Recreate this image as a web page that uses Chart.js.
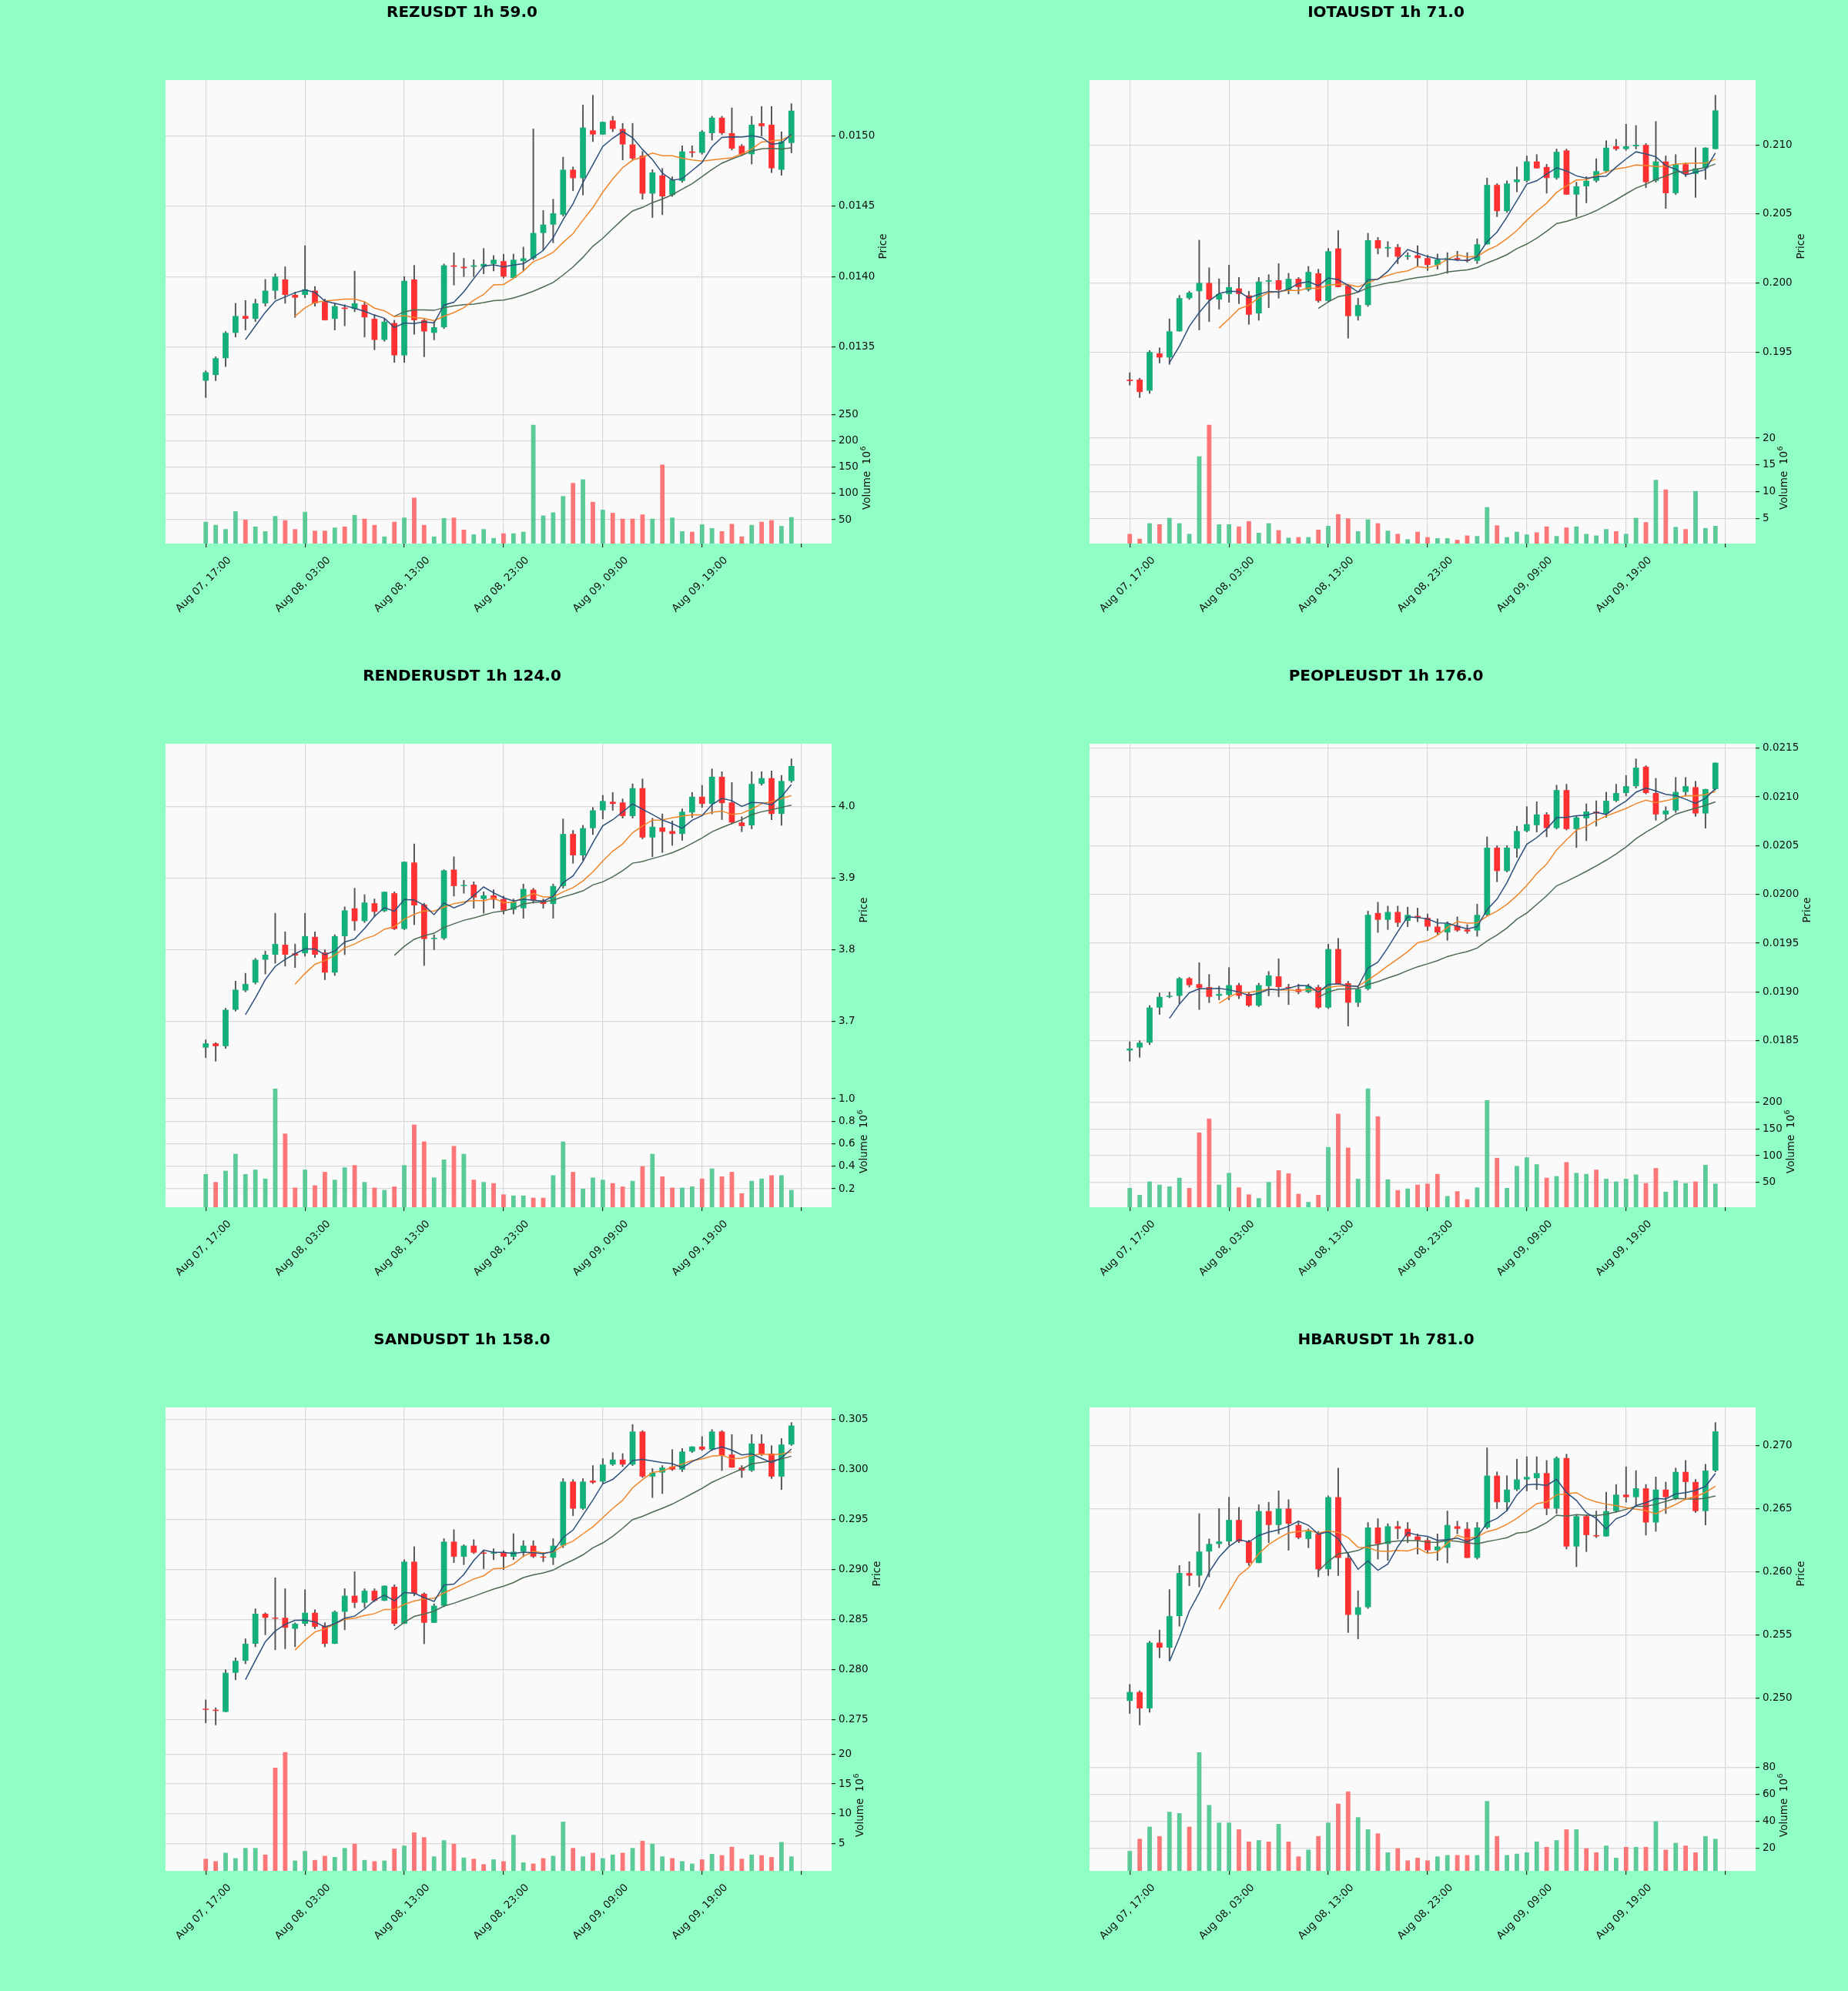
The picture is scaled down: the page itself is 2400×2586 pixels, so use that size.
<!DOCTYPE html>
<html><head><meta charset="utf-8">
<script src="https://cdn.jsdelivr.net/npm/chart.js@4.4.1/dist/chart.umd.min.js"></script>
<style>
html,body{margin:0;padding:0;background:#90ffc6;}
#fig{position:relative;width:2400px;height:2586px;background:#90ffc6;overflow:hidden;}
.cell{position:absolute;width:1200px;height:862px;}
</style></head><body><div id="fig"></div>
<script>
// ---------- DATA ----------
const xTickLabels = ['Aug 07, 17:00','Aug 08, 03:00','Aug 08, 13:00','Aug 08, 23:00','Aug 09, 09:00','Aug 09, 19:00'];
const xTickPos = [0,10,20,30,40,50,60];
const titles = ['REZUSDT 1h 59.0','IOTAUSDT 1h 71.0','RENDERUSDT 1h 124.0','PEOPLEUSDT 1h 176.0','SANDUSDT 1h 158.0','HBARUSDT 1h 781.0'];

// REZUSDT
const rezO=[0.01326,0.01330,0.01342,0.01360,0.01372,0.01370,0.01381,0.01390,0.01398,0.01387,0.01387,0.01390,0.01382,0.01370,0.01378,0.01377,0.01380,0.01370,0.01355,0.01367,0.01344,0.01398,0.01369,0.01360,0.01364,0.01408,0.01407,0.01407,0.01407,0.01409,0.01411,0.01399,0.01411,0.01413,0.01431,0.01437,0.01444,0.01476,0.01470,0.01504,0.01501,0.01511,0.01505,0.01494,0.01486,0.01459,0.01472,0.01458,0.01468,0.01489,0.01488,0.01502,0.01513,0.01502,0.01493,0.01487,0.01509,0.01508,0.01476,0.01495];
const rezH=[0.01333,0.01343,0.01361,0.01381,0.01383,0.01384,0.01398,0.01402,0.01407,0.01389,0.01422,0.01393,0.01384,0.01381,0.01380,0.01404,0.01382,0.01373,0.01370,0.01369,0.01400,0.01408,0.01370,0.01368,0.01409,0.01417,0.01413,0.01412,0.01420,0.01415,0.01416,0.01416,0.01421,0.01505,0.01447,0.01455,0.01485,0.01478,0.01522,0.01529,0.01510,0.01514,0.01509,0.01509,0.01489,0.01476,0.01477,0.01471,0.01493,0.01493,0.01504,0.01514,0.01514,0.01520,0.01494,0.01514,0.01521,0.01521,0.01503,0.01523];
const rezL=[0.01314,0.01326,0.01336,0.01357,0.01362,0.01368,0.01379,0.01384,0.01381,0.01371,0.01385,0.01379,0.01369,0.01362,0.01365,0.01375,0.01357,0.01348,0.01354,0.01339,0.01339,0.01359,0.01343,0.01355,0.01363,0.01394,0.01400,0.01400,0.01402,0.01404,0.01399,0.01399,0.01404,0.01412,0.01419,0.01424,0.01443,0.01461,0.01458,0.01496,0.01501,0.01503,0.01483,0.01483,0.01455,0.01442,0.01444,0.01457,0.01467,0.01485,0.01487,0.01497,0.01501,0.01490,0.01486,0.01480,0.01500,0.01474,0.01472,0.01488];
const rezC=[0.01332,0.01342,0.01360,0.01372,0.01370,0.01381,0.01390,0.01400,0.01387,0.01385,0.01391,0.01381,0.01369,0.01379,0.01377,0.01381,0.01371,0.01355,0.01368,0.01344,0.01397,0.01369,0.01361,0.01364,0.01408,0.01407,0.01406,0.01408,0.01409,0.01412,0.01400,0.01412,0.01413,0.01431,0.01437,0.01445,0.01476,0.01470,0.01506,0.01501,0.01510,0.01505,0.01494,0.01484,0.01459,0.01474,0.01457,0.01469,0.01489,0.01488,0.01503,0.01513,0.01502,0.01491,0.01487,0.01508,0.01507,0.01477,0.01496,0.01518];
const rezV=[46,40,32,66,50,37,28,57,49,32,65,29,29,35,37,59,52,40,18,46,54,92,40,18,53,54,31,22,32,15,24,24,27,231,58,64,95,120,127,84,69,63,52,52,60,52,155,54,28,27,41,34,28,42,18,40,46,49,38,55];
const rezPriceTicks=[0.0135,0.0140,0.0145,0.0150];
const rezVolTicks=[50,100,150,200,250];

// IOTAUSDT
const iotaO=[0.1930,0.1930,0.1922,0.1949,0.1946,0.1965,0.1989,0.1994,0.2000,0.1988,0.1992,0.1996,0.1991,0.1978,0.2001,0.2002,0.1995,0.2003,0.1995,0.2007,0.1987,0.2025,0.1998,0.1976,0.1984,0.2031,0.2025,0.2026,0.2019,0.2020,0.2018,0.2013,0.2017,0.2018,0.2017,0.2016,0.2028,0.2071,0.2052,0.2073,0.2074,0.2088,0.2084,0.2076,0.2096,0.2064,0.2070,0.2074,0.2081,0.2099,0.2097,0.2099,0.2100,0.2074,0.2088,0.2065,0.2086,0.2079,0.2083,0.2097];
const iotaH=[0.1935,0.1931,0.1951,0.1953,0.1974,0.1991,0.1994,0.2031,0.2011,0.2003,0.2013,0.2004,0.1994,0.2004,0.2006,0.2014,0.2007,0.2004,0.2012,0.2010,0.2025,0.2038,0.1999,0.1989,0.2036,0.2033,0.2030,0.2028,0.2022,0.2027,0.2020,0.2021,0.2022,0.2023,0.2022,0.2032,0.2076,0.2072,0.2074,0.2084,0.2092,0.2093,0.2086,0.2097,0.2097,0.2073,0.2077,0.2090,0.2103,0.2104,0.2115,0.2114,0.2101,0.2117,0.2092,0.2093,0.2087,0.2098,0.2098,0.2136];
const iotaL=[0.1926,0.1917,0.1920,0.1942,0.1941,0.1965,0.1988,0.1966,0.1972,0.1981,0.1986,0.1985,0.1970,0.1973,0.1982,0.1989,0.1992,0.1992,0.1994,0.1986,0.1986,0.1997,0.1960,0.1973,0.1983,0.2021,0.2019,0.2014,0.2017,0.2012,0.2009,0.2010,0.2007,0.2016,0.2015,0.2014,0.2028,0.2048,0.2051,0.2066,0.2073,0.2083,0.2065,0.2075,0.2064,0.2048,0.2058,0.2073,0.2080,0.2096,0.2096,0.2097,0.2069,0.2073,0.2054,0.2064,0.2077,0.2062,0.2075,0.2097];
const iotaC=[0.1929,0.1921,0.1950,0.1946,0.1965,0.1989,0.1993,0.2000,0.1988,0.1992,0.1997,0.1992,0.1977,0.2001,0.2002,0.1995,0.2003,0.1997,0.2008,0.1987,0.2023,0.1997,0.1976,0.1984,0.2031,0.2025,0.2026,0.2019,0.2020,0.2018,0.2013,0.2017,0.2018,0.2017,0.2016,0.2028,0.2071,0.2052,0.2072,0.2075,0.2088,0.2083,0.2076,0.2095,0.2064,0.2070,0.2074,0.2081,0.2098,0.2097,0.2099,0.2100,0.2073,0.2088,0.2065,0.2086,0.2079,0.2083,0.2098,0.2125];
const iotaV=[2.1,1.2,4.1,3.9,5.1,4.1,2.1,16.6,22.5,3.9,3.9,3.5,4.5,2.3,4.1,2.8,1.4,1.5,1.5,2.9,3.6,5.8,5.0,2.6,4.8,4.1,2.7,2.1,1.1,2.5,1.5,1.3,1.3,1.0,1.8,1.7,7.1,3.7,1.5,2.5,2.0,2.4,3.5,1.7,3.3,3.5,2.1,1.8,3.0,2.6,2.1,5.1,4.3,12.2,10.4,3.4,3.0,10.1,3.2,3.6];
const iotaPriceTicks=[0.195,0.200,0.205,0.210];
const iotaVolTicks=[5,10,15,20];

// RENDERUSDT
const renO=[3.663,3.669,3.665,3.716,3.743,3.754,3.786,3.793,3.807,3.795,3.795,3.818,3.796,3.768,3.819,3.858,3.840,3.865,3.854,3.879,3.829,3.922,3.863,3.815,3.816,3.912,3.889,3.891,3.871,3.876,3.871,3.856,3.858,3.884,3.869,3.864,3.889,3.962,3.932,3.970,3.995,4.007,4.006,3.987,4.026,3.957,3.971,3.966,3.962,3.992,4.014,4.004,4.042,4.006,3.978,3.974,4.032,4.040,3.990,4.036];
const renH=[3.674,3.670,3.718,3.756,3.767,3.788,3.798,3.851,3.825,3.808,3.851,3.825,3.800,3.821,3.860,3.886,3.877,3.871,3.881,3.881,3.923,3.948,3.865,3.821,3.912,3.930,3.897,3.895,3.881,3.884,3.875,3.871,3.892,3.886,3.871,3.892,3.983,3.967,3.974,3.999,4.016,4.020,4.011,4.032,4.039,3.984,3.990,3.980,3.997,4.020,4.030,4.053,4.049,4.034,3.986,4.049,4.049,4.050,4.044,4.067];
const renL=[3.649,3.644,3.662,3.714,3.741,3.752,3.766,3.781,3.777,3.775,3.791,3.789,3.758,3.764,3.793,3.827,3.838,3.846,3.853,3.828,3.828,3.835,3.778,3.800,3.814,3.875,3.879,3.858,3.851,3.858,3.850,3.850,3.844,3.865,3.858,3.844,3.886,3.921,3.925,3.961,3.983,3.995,3.984,3.984,3.955,3.930,3.936,3.946,3.953,3.985,3.999,3.990,3.982,3.976,3.965,3.969,4.030,3.982,3.974,4.034];
const renC=[3.669,3.665,3.716,3.744,3.752,3.786,3.793,3.808,3.793,3.792,3.819,3.793,3.768,3.819,3.855,3.840,3.866,3.853,3.881,3.829,3.923,3.862,3.815,3.816,3.911,3.889,3.890,3.873,3.876,3.870,3.855,3.867,3.885,3.869,3.864,3.889,3.962,3.932,3.970,3.995,4.008,4.004,3.987,4.026,3.957,3.972,3.965,3.962,3.993,4.014,4.004,4.042,4.005,3.978,3.973,4.032,4.040,3.990,4.036,4.057];
const renV=[0.33,0.26,0.36,0.51,0.33,0.37,0.29,1.09,0.69,0.21,0.37,0.23,0.35,0.28,0.39,0.41,0.26,0.21,0.19,0.22,0.41,0.77,0.62,0.30,0.46,0.58,0.51,0.28,0.26,0.25,0.15,0.14,0.14,0.12,0.12,0.32,0.62,0.35,0.20,0.30,0.28,0.25,0.22,0.27,0.40,0.51,0.31,0.21,0.21,0.22,0.29,0.38,0.31,0.35,0.16,0.27,0.29,0.32,0.32,0.19];
const renPriceTicks=[3.7,3.8,3.9,4.0];
const renVolTicks=[0.2,0.4,0.6,0.8,1.0];

// PEOPLEUSDT
const pplO=[0.01840,0.01843,0.01848,0.01884,0.01895,0.01896,0.01914,0.01908,0.01905,0.01896,0.01897,0.01907,0.01898,0.01886,0.01906,0.01916,0.01905,0.01903,0.01900,0.01905,0.01884,0.01944,0.01909,0.01889,0.01903,0.01981,0.01974,0.01982,0.01973,0.01978,0.01976,0.01967,0.01961,0.01968,0.01964,0.01963,0.01979,0.02048,0.02024,0.02047,0.02065,0.02071,0.02082,0.02068,0.02107,0.02067,0.02078,0.02085,0.02083,0.02096,0.02104,0.02111,0.02131,0.02104,0.02082,0.02086,0.02105,0.02110,0.02083,0.02108];
const pplH=[0.01849,0.01850,0.01886,0.01899,0.01900,0.01915,0.01915,0.01930,0.01918,0.01906,0.01925,0.01909,0.01900,0.01909,0.01921,0.01934,0.01908,0.01908,0.01908,0.01907,0.01949,0.01955,0.01911,0.01905,0.01983,0.01992,0.01988,0.01988,0.01987,0.01986,0.01980,0.01975,0.01972,0.01977,0.01969,0.01990,0.02059,0.02050,0.02050,0.02070,0.02090,0.02095,0.02084,0.02112,0.02113,0.02080,0.02093,0.02096,0.02105,0.02113,0.02122,0.02139,0.02132,0.02119,0.02090,0.02120,0.02120,0.02116,0.02108,0.02135];
const pplL=[0.01829,0.01833,0.01846,0.01877,0.01894,0.01888,0.01905,0.01882,0.01889,0.01892,0.01892,0.01893,0.01885,0.01885,0.01896,0.01895,0.01887,0.01898,0.01899,0.01883,0.01883,0.01908,0.01865,0.01885,0.01902,0.01961,0.01964,0.01967,0.01967,0.01972,0.01963,0.01959,0.01953,0.01962,0.01960,0.01957,0.01978,0.02013,0.02023,0.02038,0.02064,0.02064,0.02059,0.02067,0.02066,0.02048,0.02055,0.02070,0.02079,0.02095,0.02101,0.02109,0.02103,0.02076,0.02076,0.02084,0.02101,0.02080,0.02068,0.02107];
const pplC=[0.01842,0.01848,0.01884,0.01895,0.01896,0.01914,0.01907,0.01904,0.01895,0.01898,0.01907,0.01896,0.01886,0.01907,0.01917,0.01905,0.01904,0.01900,0.01906,0.01884,0.01944,0.01908,0.01889,0.01903,0.01979,0.01974,0.01982,0.01971,0.01979,0.01976,0.01967,0.01961,0.01970,0.01963,0.01962,0.01979,0.02048,0.02024,0.02048,0.02065,0.02072,0.02082,0.02068,0.02107,0.02067,0.02079,0.02085,0.02083,0.02096,0.02104,0.02111,0.02130,0.02104,0.02082,0.02086,0.02105,0.02111,0.02083,0.02108,0.02135];
const pplV=[40,27,52,46,43,59,40,143,169,46,68,41,28,21,51,73,67,29,14,27,116,178,115,57,225,173,56,36,39,46,48,66,25,34,19,41,203,96,40,81,97,84,59,62,88,68,66,74,57,52,57,65,49,77,33,54,49,52,83,48];
const pplPriceTicks=[0.0185,0.0190,0.0195,0.0200,0.0205,0.0210,0.0215];
const pplVolTicks=[50,100,150,200];

// SANDUSDT
const sandO=[0.2761,0.2760,0.2758,0.2797,0.2809,0.2826,0.2856,0.2852,0.2852,0.2841,0.2846,0.2857,0.2844,0.2826,0.2858,0.2874,0.2867,0.2879,0.2869,0.2883,0.2846,0.2908,0.2876,0.2847,0.2864,0.2928,0.2913,0.2924,0.2917,0.2916,0.2917,0.2913,0.2918,0.2924,0.2913,0.2912,0.2924,0.2988,0.2961,0.2989,0.2988,0.3005,0.3010,0.3005,0.3038,0.2993,0.2997,0.3003,0.3000,0.3018,0.3023,0.3020,0.3038,0.3015,0.3002,0.2999,0.3026,0.3016,0.2993,0.3025];
const sandH=[0.2770,0.2762,0.2800,0.2812,0.2831,0.2861,0.2857,0.2892,0.2881,0.2847,0.2880,0.2860,0.2847,0.2859,0.2881,0.2898,0.2881,0.2881,0.2884,0.2885,0.2910,0.2923,0.2877,0.2866,0.2931,0.2940,0.2925,0.2930,0.2919,0.2921,0.2919,0.2936,0.2929,0.2929,0.2917,0.2931,0.2991,0.2990,0.2991,0.3004,0.3011,0.3017,0.3016,0.3045,0.3039,0.3001,0.3004,0.3020,0.3021,0.3023,0.3033,0.3040,0.3039,0.3035,0.3004,0.3035,0.3035,0.3024,0.3031,0.3047];
const sandL=[0.2747,0.2745,0.2758,0.2790,0.2806,0.2823,0.2835,0.2820,0.2821,0.2823,0.2844,0.2841,0.2823,0.2826,0.2840,0.2862,0.2862,0.2868,0.2869,0.2844,0.2846,0.2874,0.2826,0.2847,0.2863,0.2907,0.2905,0.2916,0.2901,0.2910,0.2900,0.2910,0.2913,0.2912,0.2908,0.2905,0.2922,0.2954,0.2960,0.2986,0.2986,0.3004,0.3003,0.3004,0.2992,0.2972,0.2976,0.2999,0.2998,0.3017,0.3019,0.3019,0.2999,0.3002,0.2992,0.2998,0.3014,0.2991,0.2980,0.3024];
const sandC=[0.2760,0.2759,0.2797,0.2809,0.2826,0.2856,0.2852,0.2851,0.2842,0.2846,0.2857,0.2843,0.2826,0.2858,0.2874,0.2867,0.2879,0.2869,0.2884,0.2846,0.2908,0.2876,0.2847,0.2864,0.2928,0.2913,0.2924,0.2917,0.2916,0.2917,0.2913,0.2918,0.2924,0.2913,0.2912,0.2924,0.2988,0.2961,0.2988,0.2987,0.3005,0.3010,0.3005,0.3038,0.2993,0.2997,0.3002,0.3000,0.3018,0.3023,0.3020,0.3038,0.3014,0.3002,0.2999,0.3026,0.3015,0.2993,0.3025,0.3044];
const sandV=[2.5,2.1,3.5,2.6,4.3,4.3,3.2,17.7,20.3,2.2,3.8,2.3,3.0,2.8,4.3,5.0,2.3,2.1,2.2,4.2,4.7,6.9,6.1,2.9,5.6,5.0,2.7,2.5,1.6,2.4,2.1,6.5,1.9,1.7,2.6,3.0,8.7,4.3,2.9,3.5,2.6,3.2,3.5,4.3,5.5,5.0,2.9,2.6,2.1,1.7,2.4,3.3,3.1,4.5,2.5,3.2,3.1,2.8,5.3,2.9];
const sandPriceTicks=[0.275,0.280,0.285,0.290,0.295,0.300,0.305];
const sandVolTicks=[5,10,15,20];

// HBARUSDT
const hbarO=[0.2498,0.2505,0.2492,0.2544,0.2540,0.2565,0.2599,0.2597,0.2616,0.2622,0.2624,0.2641,0.2624,0.2607,0.2648,0.2637,0.2650,0.2637,0.2626,0.2630,0.2602,0.2659,0.2611,0.2566,0.2572,0.2635,0.2622,0.2636,0.2634,0.2628,0.2625,0.2617,0.2619,0.2636,0.2634,0.2611,0.2635,0.2676,0.2655,0.2665,0.2673,0.2674,0.2678,0.2650,0.2690,0.2620,0.2644,0.2629,0.2628,0.2648,0.2661,0.2659,0.2666,0.2639,0.2665,0.2658,0.2679,0.2671,0.2648,0.2680];
const hbarH=[0.2511,0.2506,0.2545,0.2554,0.2586,0.2605,0.2608,0.2646,0.2626,0.2650,0.2659,0.2651,0.2625,0.2653,0.2655,0.2664,0.2657,0.2640,0.2634,0.2632,0.2660,0.2682,0.2615,0.2585,0.2639,0.2642,0.2638,0.2640,0.2639,0.2630,0.2627,0.2630,0.2648,0.2640,0.2639,0.2639,0.2698,0.2679,0.2676,0.2689,0.2691,0.2691,0.2688,0.2691,0.2693,0.2645,0.2645,0.2648,0.2663,0.2669,0.2683,0.2680,0.2669,0.2675,0.2671,0.2682,0.2688,0.2673,0.2685,0.2718];
const hbarL=[0.2488,0.2479,0.2489,0.2532,0.2530,0.2557,0.2589,0.2588,0.2596,0.2619,0.2621,0.2623,0.2605,0.2607,0.2623,0.2630,0.2617,0.2626,0.2619,0.2596,0.2597,0.2597,0.2552,0.2547,0.2571,0.2610,0.2609,0.2626,0.2623,0.2614,0.2615,0.2609,0.2607,0.2630,0.2611,0.2610,0.2634,0.2650,0.2648,0.2664,0.2664,0.2665,0.2645,0.2646,0.2618,0.2604,0.2616,0.2627,0.2628,0.2647,0.2655,0.2652,0.2629,0.2632,0.2646,0.2657,0.2657,0.2647,0.2637,0.2679];
const hbarC=[0.2505,0.2492,0.2544,0.2540,0.2565,0.2599,0.2597,0.2616,0.2622,0.2624,0.2641,0.2624,0.2607,0.2648,0.2637,0.2650,0.2638,0.2627,0.2632,0.2602,0.2659,0.2611,0.2566,0.2572,0.2635,0.2622,0.2636,0.2634,0.2628,0.2625,0.2617,0.2620,0.2637,0.2634,0.2611,0.2635,0.2676,0.2655,0.2665,0.2673,0.2675,0.2678,0.2650,0.2690,0.2620,0.2644,0.2629,0.2628,0.2648,0.2661,0.2659,0.2666,0.2639,0.2665,0.2659,0.2679,0.2671,0.2648,0.2680,0.2711];
const hbarV=[18,27,36,29,47,46,36,91,52,39,39,34,25,26,25,38,25,14,19,29,39,53,62,43,34,31,17,20,11,13,11,14,15,15,15,15,55,29,15,16,17,25,21,26,34,34,20,17,22,13,21,21,21,40,19,24,22,17,29,27];
const hbarPriceTicks=[0.250,0.255,0.260,0.265,0.270];
const hbarVolTicks=[20,40,60,80];

// ---------- STYLE ----------
const UP='#14b07a', DOWN='#fe3032', WICK='#555555';
const VUP='rgba(77,199,144,0.92)', VDOWN='rgba(253,107,108,0.92)';
const GRID='#d9d9d9', TXT='#101010';
const MA_PERIODS=[5,10,20];
const MA_COLORS=['#2c4f7c','#f0862a','#4d6a52'];
const FONT_FAMILY="'DejaVu Sans', sans-serif";
Chart.defaults.font.family = FONT_FAMILY;
Chart.defaults.font.size = 13.5;

const panels = [
  {o:rezO,h:rezH,l:rezL,c:rezC,v:rezV,pt:rezPriceTicks,vt:rezVolTicks,dec:4,vdec:0},
  {o:iotaO,h:iotaH,l:iotaL,c:iotaC,v:iotaV,pt:iotaPriceTicks,vt:iotaVolTicks,dec:3,vdec:0},
  {o:renO,h:renH,l:renL,c:renC,v:renV,pt:renPriceTicks,vt:renVolTicks,dec:1,vdec:1},
  {o:pplO,h:pplH,l:pplL,c:pplC,v:pplV,pt:pplPriceTicks,vt:pplVolTicks,dec:4,vdec:0},
  {o:sandO,h:sandH,l:sandL,c:sandC,v:sandV,pt:sandPriceTicks,vt:sandVolTicks,dec:3,vdec:0},
  {o:hbarO,h:hbarH,l:hbarL,c:hbarC,v:hbarV,pt:hbarPriceTicks,vt:hbarVolTicks,dec:3,vdec:0}
];

function sma(arr,n){
  const out=[];
  for(let i=n-1;i<arr.length;i++){let s=0;for(let j=i-n+1;j<=i;j++)s+=arr[j];out.push({x:i,y:s/n});}
  return out;
}

const panelPlugin = {
  id:'panelDecor',
  beforeDraw(chart){
    const {ctx, chartArea:a} = chart;
    ctx.save(); ctx.fillStyle='#fafafa'; ctx.fillRect(a.left,a.top,a.right-a.left,a.bottom-a.top); ctx.restore();
  },
  afterDraw(chart){
    const ctx = chart.ctx;
    const fs = 13.5;
    ctx.save();
    ctx.fillStyle = TXT;
    const items = [['y','Price',null],['yv','Volume  10','6']];
    for (const [id,label,sup] of items){
      const s = chart.scales[id];
      ctx.font = fs+'px '+FONT_FAMILY;
      let maxW = 0;
      for (const t of s.ticks){ const w = ctx.measureText(String(t.label)).width; if (w>maxW) maxW=w; }
      const x = s.left + 5 + 4 + maxW + 5 + fs*0.5;
      const yc = (s.top + s.bottom)/2;
      ctx.save();
      ctx.translate(x, yc);
      ctx.rotate(-Math.PI/2);
      ctx.textBaseline = 'middle';
      ctx.textAlign = 'left';
      const w1 = ctx.measureText(label).width;
      let w2 = 0;
      if (sup){ ctx.font = (fs*0.7)+'px '+FONT_FAMILY; w2 = ctx.measureText(sup).width; ctx.font = fs+'px '+FONT_FAMILY; }
      const x0 = -(w1+w2)/2;
      ctx.fillText(label, x0, 0);
      if (sup){ ctx.font = (fs*0.7)+'px '+FONT_FAMILY; ctx.fillText(sup, x0+w1+0.5, -5); }
      ctx.restore();
    }
    ctx.restore();
  }
};

const fig = document.getElementById('fig');
panels.forEach((p, k) => {
  const col = k % 2, row = Math.floor(k / 2);
  const div = document.createElement('div');
  div.className = 'cell';
  div.style.left = (col*1200)+'px';
  div.style.top = (row*862)+'px';
  const cv = document.createElement('canvas');
  div.appendChild(cv); fig.appendChild(div);

  const n = p.c.length;
  const idx = [...Array(n).keys()];
  const lo = Math.min(...p.l), hi = Math.max(...p.h), r = hi - lo;
  const vmin = Math.min(...p.v), vmax = Math.max(...p.v);
  const volUp = idx.map(i => i===0 ? p.c[0] >= p.o[0] : p.c[i] >= p.c[i-1]);

  const datasets = [
    {type:'bar', label:'wick', data: idx.map(i=>({x:i, y:[p.l[i], p.h[i]]})), backgroundColor:WICK,
     barThickness:1.3, grouped:false, order:5, yAxisID:'y', xAxisID:'x'},
    {type:'bar', label:'body', data: idx.map(i=>({x:i, y:[p.o[i], p.c[i]]})),
     backgroundColor: idx.map(i => p.c[i] >= p.o[i] ? UP : DOWN),
     barPercentage:0.6, categoryPercentage:1, minBarLength:1.5, grouped:false, order:4, yAxisID:'y', xAxisID:'x'},
    ...MA_PERIODS.map((m,j)=>({type:'line', label:'MA'+m, data: sma(p.c, m), borderColor: MA_COLORS[j],
      borderWidth:1.5, pointRadius:0, tension:0, fill:false, order:1, yAxisID:'y', xAxisID:'x'})),
    {type:'bar', label:'volume', data: idx.map(i=>({x:i, y:p.v[i]})),
     backgroundColor: idx.map(i => volUp[i] ? VUP : VDOWN),
     barPercentage:0.45, categoryPercentage:1, grouped:false, order:5, yAxisID:'yv', xAxisID:'x'}
  ];

  new Chart(cv, {
    type:'bar',
    data:{datasets},
    plugins:[panelPlugin],
    options:{
      responsive:true, maintainAspectRatio:false, animation:false, events:[],
      layout:{padding:0},
      plugins:{
        legend:{display:false}, tooltip:{enabled:false},
        title:{display:true, text:titles[k], color:'#000', font:{size:20, weight:'bold'}, padding:{top:5, bottom:75}}
      },
      scales:{
        x:{type:'linear', min:-1-0.05*(n+1), max:n+0.05*(n+1), offset:false, bounds:'data',
           grid:{offset:false, color:GRID, lineWidth:1.2, tickColor:'#222', tickLength:5, drawTicks:true},
           border:{display:false},
           afterBuildTicks: s => { s.ticks = xTickPos.map(v => ({value:v})); },
           ticks:{autoSkip:false, minRotation:45, maxRotation:45, labelOffset:31, padding:9, color:TXT,
                  callback: v => (xTickLabels[Math.round(v/10)] ?? '')},
           afterFit: s => { s.height = 156; }},
        yl:{type:'linear', position:'left', min:0, max:1, display:true,
            grid:{display:false, drawTicks:false}, border:{display:false}, ticks:{display:false},
            afterFit: s => { s.width = 215; }},
        y:{type:'linear', position:'right', stack:'panel', stackWeight:432,
           min: lo - 0.05*r, max: hi + 0.05*r, beginAtZero:false, bounds:'data',
           grid:{color:GRID, lineWidth:1.2, tickColor:'#222', tickLength:5},
           border:{display:false},
           afterBuildTicks: s => { s.ticks = p.pt.map(v => ({value:v})); },
           ticks:{padding:4, color:TXT, callback: v => Number(v).toFixed(p.dec)},
           afterFit: s => { s.width = 120; }},
        yv:{type:'linear', position:'right', stack:'panel', stackWeight:170,
            min: 0.3*vmin, max: 1.1*vmax, beginAtZero:false, bounds:'data',
            grid:{color:GRID, lineWidth:1.2, tickColor:'#222', tickLength:5},
            border:{display:false},
            afterBuildTicks: s => { s.ticks = p.vt.map(v => ({value:v})); },
            ticks:{padding:4, color:TXT, callback: v => Number(v).toFixed(p.vdec)},
            afterFit: s => { s.width = 120; }}
      }
    }
  });
});
</script></body></html>
